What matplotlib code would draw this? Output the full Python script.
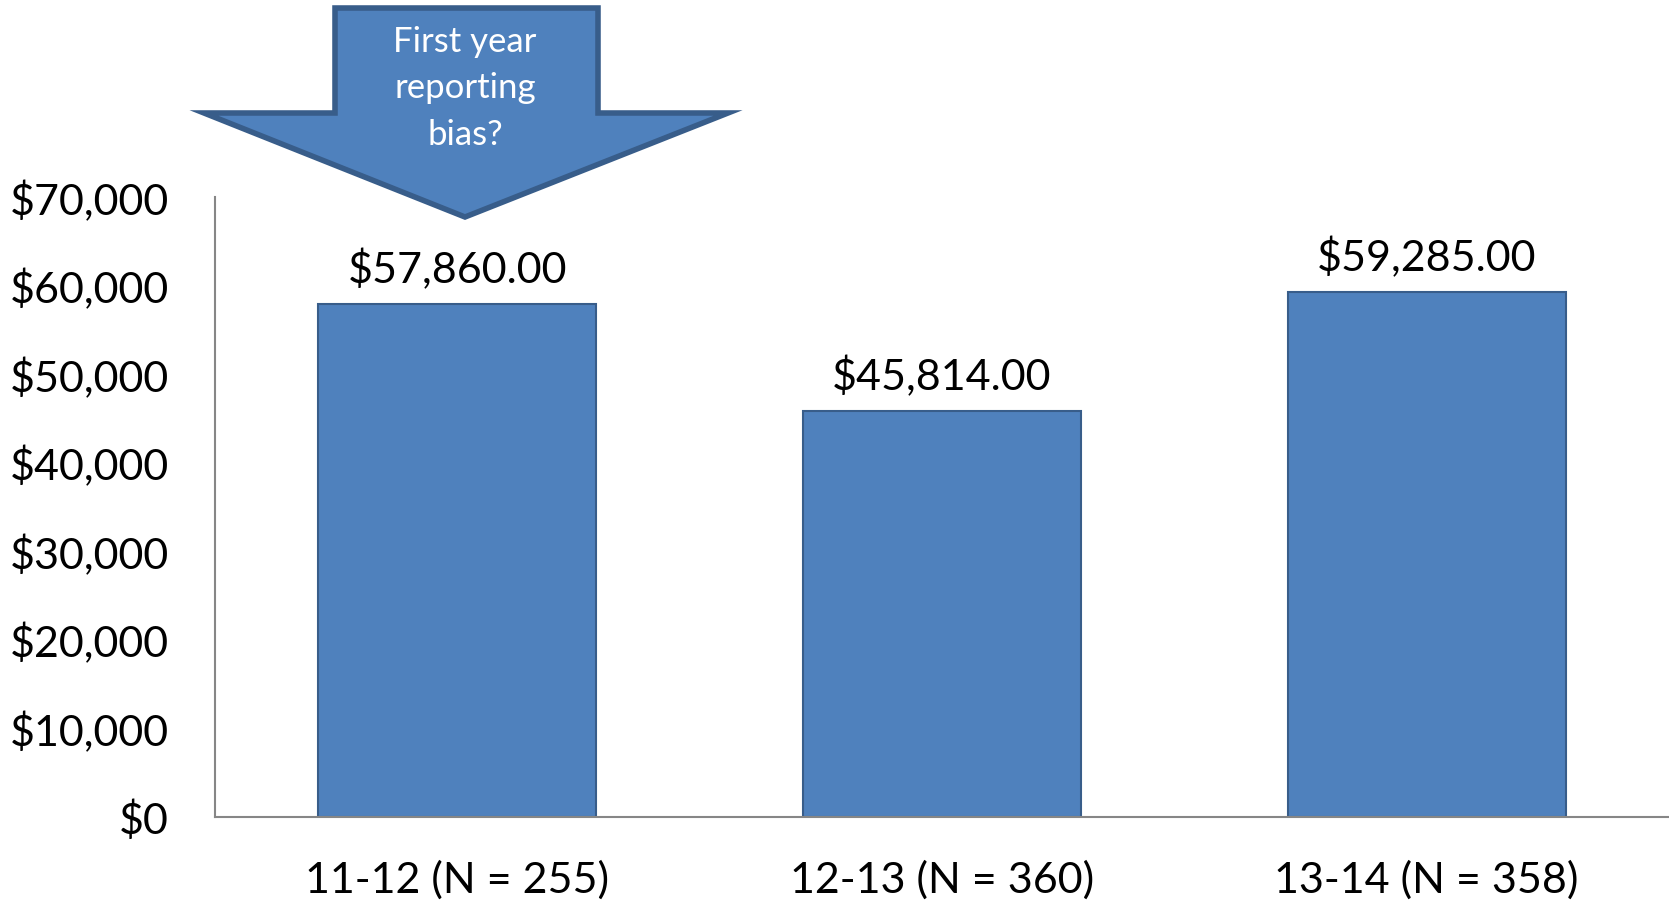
import matplotlib.pyplot as plt
from matplotlib.patches import Polygon
from matplotlib.ticker import FuncFormatter

plt.rcParams['font.family'] = ['Lato', 'DejaVu Sans']

years = ['11-12', '12-13', '13-14']
counts = [255, 360, 358]
averages = [57860.00, 45814.00, 59285.00]

W, H = 1669, 904
fig = plt.figure(figsize=(W / 100, H / 100), dpi=100)
ax = fig.add_axes([215 / W, (H - 817.5) / H, (W - 215) / W, (817.5 - 198) / H])

labels = [f'{y} (N = {n})' for y, n in zip(years, counts)]
x = range(len(labels))
bars = ax.bar(x, averages, width=0.573, color='#4F81BD', edgecolor='#385D8A', linewidth=1.5, zorder=2)

for b, v in zip(bars, averages):
    ax.text(b.get_x() + b.get_width() / 2, v + 1700, f'${v:,.2f}',
            ha='center', va='bottom', fontsize=31, color='black')

ax.set_xlim(-0.5, 2.5)
ax.set_ylim(0, 70000)
ax.set_yticks(range(0, 70001, 10000))
ax.yaxis.set_major_formatter(FuncFormatter(lambda v, p: f'${v:,.0f}'))
ax.set_xticks(list(x))
ax.set_xticklabels(labels)
ax.tick_params(axis='both', length=0, labelsize=31, colors='black')
ax.tick_params(axis='y', pad=33)
ax.tick_params(axis='x', pad=31)

for side in ('top', 'right'):
    ax.spines[side].set_visible(False)
for side in ('left', 'bottom'):
    ax.spines[side].set_color('#868686')
    ax.spines[side].set_linewidth(1.5)

# block arrow callout over the first bar
pts = [(335, 9), (598, 9), (598, 114), (728, 114), (465, 218),
       (204, 114), (335, 114)]
arrow = Polygon([(px / W, 1 - py / H) for px, py in pts], closed=True,
                transform=fig.transFigure, facecolor='#4F81BD',
                edgecolor='#385D8A', linewidth=4, joinstyle='miter', zorder=5)
fig.patches.append(arrow)
fig.text(465 / W, 1 - 88.5 / H, 'First year\nreporting\nbias?', ha='center', va='center',
         fontsize=25, color='white', linespacing=1.55, zorder=6)

fig.savefig('out.png', dpi=100)
